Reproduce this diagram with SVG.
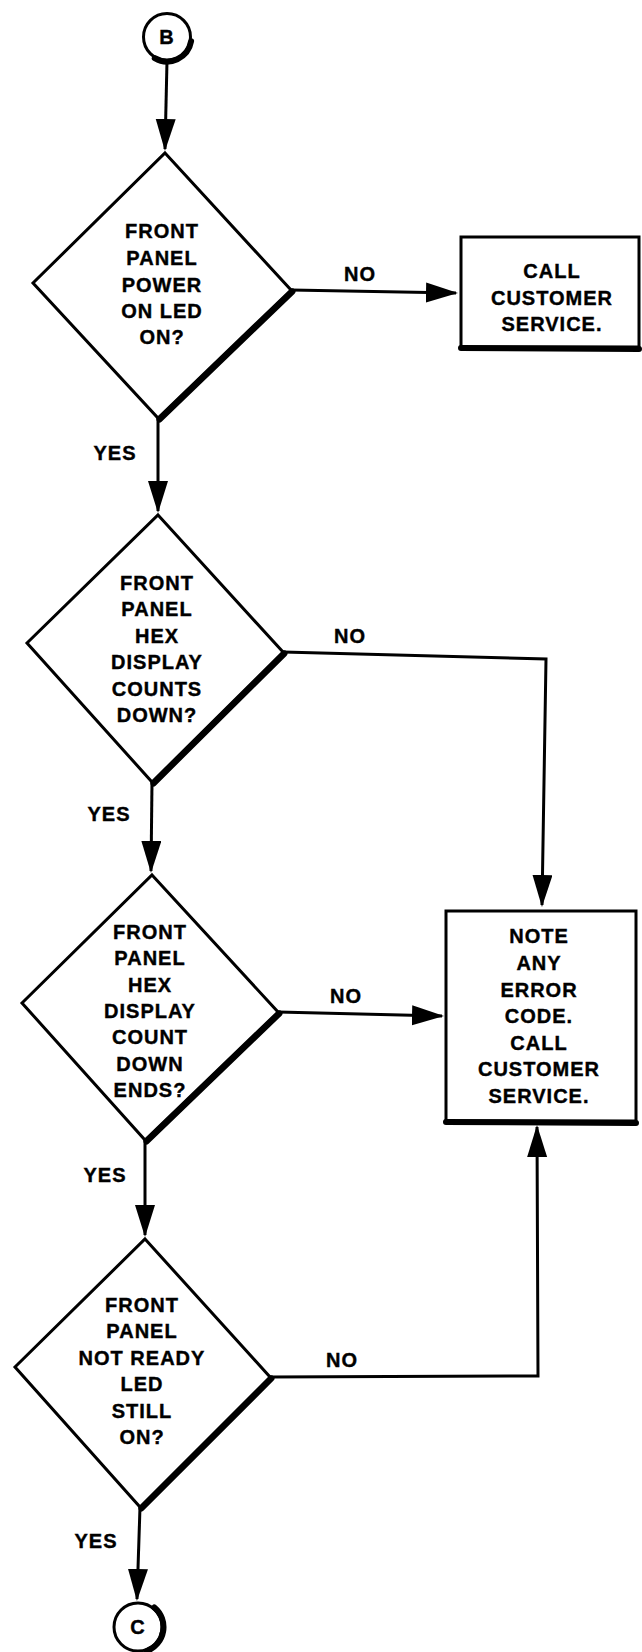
<svg xmlns="http://www.w3.org/2000/svg" width="642" height="1652" viewBox="0 0 642 1652">
  <style>
    .shape { fill: #fff; stroke: #000; stroke-width: 3; stroke-linejoin: miter; }
    .shade { fill: none; stroke: #000; stroke-width: 6; stroke-linecap: round; }
    .wire { fill: none; stroke: #000; stroke-width: 3; stroke-linejoin: miter; }
    .lbl { font-family: "Liberation Sans", Arial, sans-serif; font-weight: bold; font-size: 20px; letter-spacing: 1px; text-anchor: middle; fill: #000; stroke: #000; stroke-width: 0.4; }
  </style>
  <defs>
    <marker id="arrow" markerUnits="userSpaceOnUse" markerWidth="34" markerHeight="22" refX="30" refY="10" orient="auto">
      <path d="M0,0 L32,10 L0,20 Z" fill="#000"/>
    </marker>
  </defs>
  <rect width="642" height="1652" fill="#fff"/>

  <!-- connectors -->
  <g id="connectors">
    <path class="wire" d="M167,61 L165,149" marker-end="url(#arrow)"/>
    <path class="wire" d="M291,290 L456,293" marker-end="url(#arrow)"/>
    <path class="wire" d="M158,418 L158,511" marker-end="url(#arrow)"/>
    <path class="wire" d="M283,652 L546,659 L542,905" marker-end="url(#arrow)"/>
    <path class="wire" d="M152,782 L151,871" marker-end="url(#arrow)"/>
    <path class="wire" d="M278,1012 L442,1016" marker-end="url(#arrow)"/>
    <path class="wire" d="M145,1140 L145,1235" marker-end="url(#arrow)"/>
    <path class="wire" d="M270,1377 L538,1376 L537,1127" marker-end="url(#arrow)"/>
    <path class="wire" d="M140,1507 L137,1599" marker-end="url(#arrow)"/>
    <text class="lbl" x="360" y="281">NO</text>
    <text class="lbl" x="350" y="643">NO</text>
    <text class="lbl" x="346" y="1003">NO</text>
    <text class="lbl" x="342" y="1367">NO</text>
    <text class="lbl" x="115" y="460">YES</text>
    <text class="lbl" x="109" y="821">YES</text>
    <text class="lbl" x="105" y="1182">YES</text>
    <text class="lbl" x="96" y="1548">YES</text>
  </g>

  <!-- connector B -->
  <g id="start-b">
    <circle class="shape" cx="167" cy="37" r="23.5"/>
    <path class="shade" d="M191.1,41.3 A24.5,24.5 0 0 1 154.75,58.2"/>
    <text class="lbl" x="167" y="44">B</text>
  </g>

  <!-- decision 1 -->
  <g id="power-led">
    <polygon class="shape" points="165,153 291,290 158,418 33,283"/>
    <line class="shade" x1="292.5" y1="291.5" x2="159.5" y2="419.5"/>
    <text class="lbl" x="162" y="238">FRONT</text>
    <text class="lbl" x="162" y="265">PANEL</text>
    <text class="lbl" x="162" y="292">POWER</text>
    <text class="lbl" x="162" y="318">ON LED</text>
    <text class="lbl" x="162" y="344">ON?</text>
  </g>

  <!-- action: call customer service -->
  <g id="call-service">
    <rect class="shape" x="461" y="237" width="178" height="110" stroke-width="4"/>
    <line class="shade" x1="461" y1="348" x2="639" y2="349"/>
    <text class="lbl" x="552" y="278">CALL</text>
    <text class="lbl" x="552" y="305">CUSTOMER</text>
    <text class="lbl" x="552" y="331">SERVICE.</text>
  </g>

  <!-- decision 2 -->
  <g id="hex-counts">
    <polygon class="shape" points="158,515 283,652 152,782 27,643"/>
    <line class="shade" x1="284.5" y1="653.5" x2="153.5" y2="783.5"/>
    <text class="lbl" x="157" y="590">FRONT</text>
    <text class="lbl" x="157" y="616">PANEL</text>
    <text class="lbl" x="157" y="643">HEX</text>
    <text class="lbl" x="157" y="669">DISPLAY</text>
    <text class="lbl" x="157" y="696">COUNTS</text>
    <text class="lbl" x="157" y="722">DOWN?</text>
  </g>

  <!-- decision 3 -->
  <g id="count-ends">
    <polygon class="shape" points="152,875 278,1012 145,1140 22,1003"/>
    <line class="shade" x1="279.5" y1="1013.5" x2="146.5" y2="1141.5"/>
    <text class="lbl" x="150" y="939">FRONT</text>
    <text class="lbl" x="150" y="965">PANEL</text>
    <text class="lbl" x="150" y="992">HEX</text>
    <text class="lbl" x="150" y="1018">DISPLAY</text>
    <text class="lbl" x="150" y="1044">COUNT</text>
    <text class="lbl" x="150" y="1071">DOWN</text>
    <text class="lbl" x="150" y="1097">ENDS?</text>
  </g>

  <!-- action: note error code -->
  <g id="note-error">
    <rect class="shape" x="446" y="911" width="190" height="210" stroke-width="4"/>
    <line class="shade" x1="446" y1="1122" x2="636" y2="1123"/>
    <text class="lbl" x="539" y="943">NOTE</text>
    <text class="lbl" x="539" y="970">ANY</text>
    <text class="lbl" x="539" y="997">ERROR</text>
    <text class="lbl" x="539" y="1023">CODE.</text>
    <text class="lbl" x="539" y="1050">CALL</text>
    <text class="lbl" x="539" y="1076">CUSTOMER</text>
    <text class="lbl" x="539" y="1103">SERVICE.</text>
  </g>

  <!-- decision 4 -->
  <g id="not-ready">
    <polygon class="shape" points="145,1239 270,1377 140,1507 15,1367"/>
    <line class="shade" x1="271.5" y1="1378.5" x2="141.5" y2="1508.5"/>
    <text class="lbl" x="142" y="1312">FRONT</text>
    <text class="lbl" x="142" y="1338">PANEL</text>
    <text class="lbl" x="142" y="1365">NOT READY</text>
    <text class="lbl" x="142" y="1391">LED</text>
    <text class="lbl" x="142" y="1418">STILL</text>
    <text class="lbl" x="142" y="1444">ON?</text>
  </g>

  <!-- connector C -->
  <g id="end-c">
    <circle class="shape" cx="138" cy="1627" r="24"/>
    <path class="shade" d="M154.4,1607.5 A25.5,25.5 0 0 1 146.7,1651"/>
    <text class="lbl" x="138" y="1634">C</text>
  </g>
</svg>
